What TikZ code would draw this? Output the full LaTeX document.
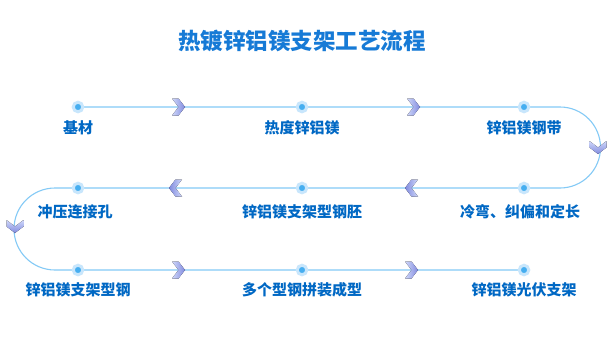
\documentclass[tikz,border=0pt]{standalone}
\usepackage{fontspec}
\newfontfamily\cjk{Noto Sans CJK SC}
\usetikzlibrary{positioning}
\usetikzlibrary{backgrounds}

\definecolor{titleblue}{RGB}{22,122,214}
\definecolor{textblue}{RGB}{0,104,196}
\definecolor{lineblue}{RGB}{132,202,246}
\definecolor{dotblue}{RGB}{70,174,240}
\definecolor{haloblue}{RGB}{200,230,252}
\definecolor{chevlight}{RGB}{208,216,250}
\definecolor{chevdark}{RGB}{128,138,222}

\tikzset{
  stagedot/.style={circle, fill=dotblue, draw=haloblue, line width=3pt, inner sep=0pt, minimum size=9.5pt},
  stage/.style={font=\cjk\bfseries\fontsize{15}{15}\selectfont, text=textblue, inner sep=0pt},
  flow/.style={draw=lineblue, line width=1.1pt},
  chevron/.pic={
    \fill[top color=chevdark, bottom color=chevlight, shading angle=#1-90, rotate=#1]
      (-13,-8.5) -- (-6.5,-8.5) -- (0,0) -- (-6.5,8.5) -- (-13,8.5) -- (-6.5,0) -- cycle;
  }
}

\begin{document}
\begin{tikzpicture}[x=1pt, y=-1pt, on grid]
  % Titolo
  \node[font=\cjk\bfseries\fontsize{22.5}{22.5}\selectfont, text=titleblue, inner sep=0pt] (title) at (302,41) {热镀锌铝镁支架工艺流程};

  % Punti principali
  \node[stagedot] (d1) at (78,107) {};
  \node[stagedot, right=224pt of d1] (d2) {};
  \node[stagedot, right=222pt of d2] (d3) {};
  \node[stagedot, below=81pt of d3] (d4) {};
  \node[stagedot, left=222pt of d4] (d5) {};
  \node[stagedot, left=224pt of d5] (d6) {};
  \node[stagedot, below=82pt of d6] (d7) {};
  \node[stagedot, right=224pt of d7] (d8) {};
  \node[stagedot, right=222pt of d8] (d9) {};

  % Etichette
  \node[stage, below=21pt of d1] (l1) {基材};
  \node[stage, below=21pt of d2] (l2) {热度锌铝镁};
  \node[stage, below=21pt of d3] (l3) {锌铝镁钢带};
  \node[stage, below=24pt of d4, xshift=-4pt] (l4) {冷弯、纠偏和定长};
  \node[stage, below=24pt of d5] (l5) {锌铝镁支架型钢胚};
  \node[stage, below=24pt of d6, xshift=-3pt] (l6) {冲压连接孔};
  \node[stage, below=20pt of d7] (l7) {锌铝镁支架型钢};
  \node[stage, below=20pt of d8] (l8) {多个型钢拼装成型};
  \node[stage, below=20pt of d9] (l9) {锌铝镁光伏支架};

  % Frecce
  \coordinate[right=107pt of d1] (c1);
  \coordinate[right=118pt of d2] (c2);
  \coordinate[below right=47pt and 74pt of d3] (c3);
  \coordinate[left=119pt of d4] (c4);
  \coordinate[left=133pt of d5] (c5);
  \coordinate[below left=45pt and 63pt of d6] (c6);
  \coordinate[right=107pt of d7] (c7);
  \coordinate[right=116pt of d8] (c8);

  \begin{scope}[on background layer]
    \fill[white] (0,0) rectangle (615,345);
    \draw[flow] (d1.center) -- (d3.center) -- ++(36,0)
      arc[start angle=-90, end angle=90, radius=40.5] -- (d4.center) -- (d6.center) -- ++(-23,0)
      arc[start angle=270, end angle=90, radius=41] -- (d9.center);
  \end{scope}

  \pic at (c1) {chevron=0};
  \pic at (c2) {chevron=0};
  \pic at (c3) {chevron=-90};
  \pic at (c4) {chevron=180};
  \pic at (c5) {chevron=180};
  \pic at (c6) {chevron=-90};
  \pic at (c7) {chevron=0};
  \pic at (c8) {chevron=0};
\end{tikzpicture}
\end{document}
